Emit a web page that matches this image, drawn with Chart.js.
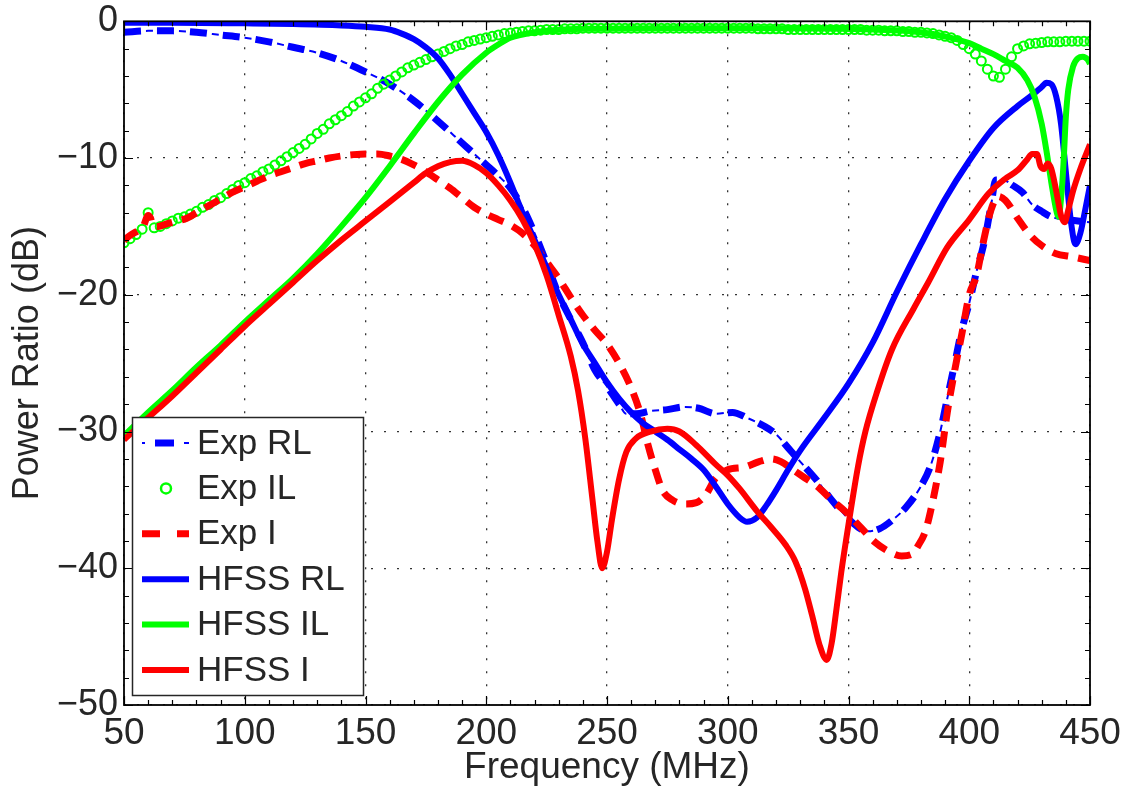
<!DOCTYPE html>
<html>
<head>
<meta charset="utf-8">
<title>Power Ratio vs Frequency</title>
<script src="https://cdn.jsdelivr.net/npm/chart.js@4.4.1/dist/chart.umd.min.js"></script>
<style>
    html, body { margin: 0; padding: 0; background: #fff; }
    canvas { display: block; }
</style>
</head>
<body>
<canvas id="grafico" width="1136" height="792"></canvas>
<script>
// Ejes
const xTicks = [50, 100, 150, 200, 250, 300, 350, 400, 450];
const yTicks = [-50, -40, -30, -20, -10, 0];

// Exp RL
const expRlFreq = [50, 60, 70, 80, 90, 100, 110, 120, 130, 140, 150, 160, 170, 180, 190, 200, 205, 210, 215, 220,
    225, 230, 235, 240, 245, 250, 255, 258, 262, 268, 275, 282, 288, 295, 302, 308, 315, 320, 325, 330,
    337, 343, 349, 354, 358, 363, 368, 374, 380, 384, 388, 391, 394, 397, 400, 403, 406, 409, 411, 414,
    418, 422, 426, 430, 434, 440, 445, 450];
const expRlDb = [-0.8, -0.7, -0.7, -0.8, -1.0, -1.2, -1.5, -1.9, -2.3, -2.9, -3.7, -4.6, -5.8, -7.3, -8.9, -10.5, -11.3, -12.2, -13.6, -15.5,
    -17.7, -20.0, -21.8, -23.5, -25.5, -26.7, -28.0, -28.7, -28.7, -28.5, -28.4, -28.2, -28.3, -28.7, -28.6, -29.0, -29.6, -30.2, -31.2, -32.2,
    -33.6, -35.0, -36.2, -37.0, -37.3, -37.1, -36.5, -35.5, -34.0, -32.5, -30.0, -27.5, -25.0, -22.5, -20.6, -18.3, -16.3, -13.5, -11.6, -11.6,
    -12.0, -12.5, -13.4, -13.9, -14.3, -14.5, -14.6, -14.7];

// Exp IL: barrido de 50 a 450 MHz cada 2.5 MHz
const expIlStart = 50;
const expIlStep = 2.5;
const expIlDb = [
    -16.2, -15.9, -15.6, -15.2, -14.0, -15.1, -15.0, -14.8, -14.6, -14.4,
    -14.3, -14.1, -13.9, -13.6, -13.4, -13.1, -12.9, -12.6, -12.3, -12.0,
    -11.8, -11.5, -11.3, -11.0, -10.8, -10.5, -10.2, -9.9, -9.6, -9.3,
    -9.0, -8.6, -8.2, -7.9, -7.5, -7.2, -6.9, -6.6, -6.2, -5.9,
    -5.6, -5.3, -4.9, -4.6, -4.3, -4.0, -3.7, -3.4, -3.2, -3.0,
    -2.8, -2.6, -2.4, -2.2, -2.0, -1.8, -1.7, -1.5, -1.4, -1.3,
    -1.2, -1.1, -1.0, -0.9, -0.85, -0.8, -0.75, -0.7, -0.7, -0.65,
    -0.6, -0.6, -0.6, -0.55, -0.55, -0.55, -0.5, -0.5, -0.5, -0.5,
    -0.5, -0.5, -0.5, -0.5, -0.5, -0.5, -0.5, -0.5, -0.5, -0.5,
    -0.5, -0.5, -0.5, -0.5, -0.5, -0.5, -0.5, -0.5, -0.5, -0.5,
    -0.5, -0.5, -0.5, -0.5, -0.5, -0.55, -0.55, -0.55, -0.55, -0.55,
    -0.6, -0.6, -0.6, -0.6, -0.6, -0.6, -0.6, -0.6, -0.6, -0.6,
    -0.6, -0.6, -0.6, -0.65, -0.65, -0.65, -0.7, -0.7, -0.7, -0.75,
    -0.75, -0.8, -0.8, -0.85, -0.9, -1.0, -1.1, -1.2, -1.4, -1.7,
    -2.0, -2.4, -2.9, -3.5, -4.0, -4.1, -3.5, -2.6, -2.0, -1.8,
    -1.65, -1.6, -1.55, -1.5, -1.5, -1.5, -1.45, -1.45, -1.45, -1.45,
    -1.45];

// Exp I
const expIFreq = [50, 53, 56, 58, 60, 61, 62, 64, 68, 72, 76, 80, 85, 90, 95, 100, 105, 110, 115, 120,
    125, 130, 135, 140, 145, 150, 155, 160, 165, 170, 175, 180, 185, 190, 195, 200, 205, 210, 215, 220,
    225, 230, 235, 240, 245, 250, 255, 260, 264, 267, 270, 273, 277, 282, 287, 291, 295, 300, 307, 313,
    318, 322, 327, 332, 337, 343, 349, 355, 361, 367, 372, 376, 379, 382, 385, 388, 391, 394, 397, 400,
    403, 406, 409, 412, 415, 420, 425, 430, 436, 442, 450];
const expIDb = [-16.0, -15.6, -15.3, -15.0, -14.2, -14.4, -15.0, -15.0, -14.8, -14.6, -14.4, -14.0, -13.5, -13.0, -12.5, -12.1, -11.7, -11.3, -11.0, -10.7,
    -10.4, -10.2, -10.0, -9.85, -9.75, -9.7, -9.7, -9.85, -10.1, -10.5, -11.0, -11.6, -12.2, -12.9, -13.6, -14.1, -14.5, -14.9, -15.5, -16.4,
    -17.6, -18.8, -20.2, -21.5, -22.6, -23.6, -25.0, -26.8, -28.8, -31.0, -32.8, -34.3, -35.0, -35.3, -35.2, -34.6, -33.4, -32.8, -32.6, -32.2,
    -32.0, -32.2, -32.8, -33.4, -34.0, -35.0, -35.9, -37.0, -38.1, -38.8, -39.1, -39.0, -38.3, -37.2, -35.0, -32.2, -28.5, -25.5, -22.8, -20.0,
    -18.6, -16.0, -13.8, -12.8, -13.1, -14.4, -15.6, -16.4, -17.0, -17.2, -17.5];

// HFSS RL
const hfssRlFreq = [50, 70, 100, 120, 140, 150, 160, 165, 170, 175, 180, 185, 190, 195, 200, 205, 210, 215, 220, 225,
    230, 235, 240, 245, 250, 255, 260, 265, 270, 275, 280, 285, 290, 295, 300, 305, 308, 312, 316, 320,
    325, 330, 340, 350, 360, 370, 380, 390, 400, 410, 420, 426, 430, 432, 434, 436, 438, 440, 442, 444,
    446, 448, 450];
const hfssRlDb = [-0.1, -0.1, -0.15, -0.2, -0.3, -0.4, -0.6, -0.9, -1.3, -1.9, -2.7, -3.9, -5.3, -6.7, -8.1, -9.8, -11.8, -14.0, -16.0, -18.0,
    -20.0, -21.8, -23.6, -25.0, -26.4, -27.6, -28.6, -29.4, -30.0, -30.6, -31.3, -32.0, -32.8, -34.0, -35.3, -36.3, -36.6, -36.3, -35.4, -34.3,
    -32.8, -31.4, -29.0, -26.5, -23.5, -19.8, -16.3, -13.0, -10.2, -7.8, -6.2, -5.4, -4.8, -4.5, -4.6, -5.5, -7.5, -11.0, -14.5, -16.3,
    -15.5, -13.8, -12.0];

// HFSS IL
const hfssIlFreq = [50, 60, 70, 80, 90, 100, 110, 120, 130, 140, 150, 160, 170, 180, 190, 200, 205, 210,
    220, 240, 280, 320, 360, 380, 390, 400, 405, 410, 415, 420, 424, 427, 430, 432, 434, 436, 437, 438,
    439, 440, 441, 443, 445, 447, 449, 450];
const hfssIlDb = [-30.3, -28.6, -27.0, -25.3, -23.7, -22.0, -20.4, -18.8, -17.0, -15.0, -12.9, -10.6, -8.2, -5.9, -3.9, -2.3, -1.7, -1.2,
    -0.8, -0.55, -0.5, -0.5, -0.6, -0.8, -1.1, -1.6, -2.0, -2.4, -2.9, -3.4, -4.3, -5.5, -7.5, -9.5, -11.8, -13.8, -14.3, -13.0,
    -10.5, -7.0, -5.0, -3.3, -2.7, -2.6, -2.8, -3.1];

// HFSS I
const hfssIFreq = [50, 60, 70, 80, 90, 100, 110, 120, 130, 140, 150, 160, 170, 175, 180, 185, 190, 195, 200, 205,
    210, 215, 220, 225, 230, 235, 238, 241, 244, 246, 248, 250, 252, 255, 258, 262, 268, 275, 280, 287,
    295, 300, 305, 312, 318, 324, 328, 332, 335, 338, 341, 343, 345, 347, 350, 354, 357, 362, 368, 377,
    383, 391, 400, 408, 415, 420, 424, 426, 428, 429.5, 431, 432.5, 434, 436, 438, 439.5, 441, 443, 446, 450];
const hfssIDb = [-30.6, -29.0, -27.4, -25.7, -24.0, -22.3, -20.7, -19.1, -17.5, -16.0, -14.6, -13.2, -11.8, -11.1, -10.6, -10.3, -10.2, -10.5, -11.1, -12.0,
    -13.1, -14.5, -16.3, -18.6, -21.5, -24.5, -27.0, -30.5, -35.0, -38.0, -40.0, -38.8, -36.5, -33.5, -31.5, -30.5, -30.0, -29.8, -30.0, -31.0,
    -32.4, -33.2, -34.2, -35.8, -37.0, -38.3, -39.5, -41.5, -43.5, -45.6, -46.7, -45.5, -43.0, -40.3, -36.8, -32.5, -30.0, -27.0, -24.0, -21.0,
    -19.1, -16.5, -14.5, -12.6, -11.5, -10.9, -10.1, -9.7, -9.7, -10.6, -10.8, -10.4, -10.8, -12.4, -14.2, -14.7, -13.8, -12.4, -10.8, -9.0];

const AZUL = "#0000ff";
const VERDE = "#00ff00";
const ROJO = "#ff0000";
const TEXTO = "#262626";

function puntos(freqs, valores) {
    return valores.map((v, i) => ({ x: freqs[i], y: v }));
}

const expIlFreq = expIlDb.map((_, i) => expIlStart + i * expIlStep);

function linea(label, freqs, valores, color, extra) {
    return Object.assign({
        label: label,
        data: puntos(freqs, valores),
        borderColor: color,
        backgroundColor: color,
        borderWidth: 6,
        pointRadius: 0,
        fill: false,
        clip: 0,
        cubicInterpolationMode: "monotone"
    }, extra || {});
}

const datasets = [
    linea("Exp RL", expRlFreq, expRlDb, AZUL, { borderWidth: 7, borderDash: [17, 16], order: 6, muestra: "rl" }),
    linea("Exp RL punto", expRlFreq, expRlDb, AZUL, { borderWidth: 2, borderDash: [7, 26], borderDashOffset: 11, order: 7, auxiliar: true }),
    {
        label: "Exp IL",
        data: puntos(expIlFreq, expIlDb),
        showLine: false,
        borderColor: VERDE,
        backgroundColor: "rgba(0,0,0,0)",
        pointStyle: "circle",
        pointRadius: 4.5,
        pointBorderWidth: 2,
        pointBorderColor: VERDE,
        pointBackgroundColor: "rgba(0,0,0,0)",
        clip: 0,
        order: 5,
        muestra: "circulo"
    },
    linea("Exp I", expIFreq, expIDb, ROJO, { borderWidth: 7, borderDash: [16, 10], order: 4, muestra: "guion" }),
    linea("HFSS RL", hfssRlFreq, hfssRlDb, AZUL, { order: 3 }),
    linea("HFSS IL", hfssIlFreq, hfssIlDb, VERDE, { order: 2 }),
    linea("HFSS I", hfssIFreq, hfssIDb, ROJO, { order: 1 })
];

// Marco, marcas interiores y leyenda al estilo MATLAB
const marcoPlugin = {
    id: "marco",
    afterDatasetsDraw(chart) {
        const ctx = chart.ctx;
        const a = chart.chartArea;
        const sx = chart.scales.x;
        const sy = chart.scales.y;
        ctx.save();
        ctx.strokeStyle = "#000";
        ctx.lineWidth = 1.2;
        ctx.beginPath();
        for (let f = xTicks[0]; f <= xTicks[xTicks.length - 1]; f += 10) {
            const px = Math.round(sx.getPixelForValue(f)) + 0.5;
            const len = (f % 50 === 0) ? 9 : 5;
            ctx.moveTo(px, a.bottom); ctx.lineTo(px, a.bottom - len);
            ctx.moveTo(px, a.top); ctx.lineTo(px, a.top + len);
        }
        for (let d = yTicks[0]; d <= yTicks[yTicks.length - 1]; d += 2) {
            const py = Math.round(sy.getPixelForValue(d)) + 0.5;
            const len = (d % 10 === 0) ? 9 : 5;
            ctx.moveTo(a.left, py); ctx.lineTo(a.left + len, py);
            ctx.moveTo(a.right, py); ctx.lineTo(a.right - len, py);
        }
        ctx.stroke();
        ctx.lineWidth = 1.8;
        ctx.strokeRect(a.left, a.top, a.right - a.left, a.bottom - a.top);
        ctx.restore();
    },
    afterDraw(chart) {
        const ctx = chart.ctx;
        const caja = { x: 132, y: 417, w: 231, h: 278 };
        ctx.save();
        ctx.fillStyle = "#fff";
        ctx.fillRect(caja.x, caja.y, caja.w, caja.h);
        ctx.strokeStyle = "#262626";
        ctx.lineWidth = 1.5;
        ctx.strokeRect(caja.x + 0.5, caja.y + 0.5, caja.w, caja.h);
        ctx.font = "35px 'Liberation Sans', Arial, sans-serif";
        ctx.textBaseline = "middle";
        ctx.fillStyle = TEXTO;
        const entradas = chart.data.datasets.filter(ds => !ds.auxiliar);
        entradas.forEach((ds, i) => {
            const yc = 443 + i * 45.4;
            const x0 = 142, x1 = 189;
            ctx.strokeStyle = ds.borderColor;
            ctx.lineCap = "butt";
            if (ds.muestra === "rl") {
                ctx.lineWidth = 2;
                ctx.beginPath();
                ctx.moveTo(x0, yc); ctx.lineTo(x0 + 3, yc);
                ctx.moveTo(x1 - 5, yc); ctx.lineTo(x1, yc);
                ctx.stroke();
                ctx.lineWidth = 7;
                ctx.beginPath();
                ctx.moveTo(155, yc); ctx.lineTo(174, yc);
                ctx.stroke();
            } else if (ds.muestra === "circulo") {
                ctx.lineWidth = 2.5;
                ctx.beginPath();
                ctx.arc(166, yc, 5, 0, Math.PI * 2);
                ctx.stroke();
            } else if (ds.muestra === "guion") {
                ctx.lineWidth = 7;
                ctx.beginPath();
                ctx.moveTo(x0, yc); ctx.lineTo(160, yc);
                ctx.moveTo(177, yc); ctx.lineTo(x1, yc);
                ctx.stroke();
            } else {
                ctx.lineWidth = 6;
                ctx.beginPath();
                ctx.moveTo(x0, yc); ctx.lineTo(x1, yc);
                ctx.stroke();
            }
            ctx.fillStyle = TEXTO;
            ctx.fillText(ds.label, 197, yc + 1);
        });
        ctx.restore();
    }
};

const fuenteEje = { family: "'Liberation Sans', Arial, sans-serif", size: 36 };

new Chart(document.getElementById("grafico").getContext("2d"), {
    type: "line",
    data: { datasets: datasets },
    options: {
        responsive: false,
        animation: false,
        devicePixelRatio: 1,
        layout: { padding: { top: 16, right: 46, left: 0, bottom: 0 } },
        plugins: {
            legend: { display: false },
            tooltip: { enabled: false }
        },
        scales: {
            x: {
                type: "linear",
                min: xTicks[0],
                max: xTicks[xTicks.length - 1],
                afterFit: s => { s.height = 87; },
                afterBuildTicks: s => { s.ticks = xTicks.map(v => ({ value: v })); },
                ticks: {
                    color: TEXTO,
                    font: { family: fuenteEje.family, size: 37, lineHeight: 1 },
                    padding: 10,
                    maxRotation: 0,
                    autoSkip: false
                },
                grid: { color: "#333", lineWidth: 1.3, drawTicks: false },
                border: { display: false, dash: [2, 11] },
                title: {
                    display: true,
                    text: "Frequency (MHz)",
                    color: TEXTO,
                    font: { family: fuenteEje.family, size: 37, lineHeight: 1.2 },
                    padding: { top: 0, bottom: 2 }
                }
            },
            y: {
                type: "linear",
                min: yTicks[0],
                max: yTicks[yTicks.length - 1],
                afterFit: s => { s.width = 124; },
                afterBuildTicks: s => { s.ticks = yTicks.map(v => ({ value: v })); },
                ticks: {
                    color: TEXTO,
                    font: { family: fuenteEje.family, size: 36, lineHeight: 0.85 },
                    padding: 6,
                    callback: v => String(v).replace("-", "\u2212")
                },
                grid: { color: "#333", lineWidth: 1.3, drawTicks: false },
                border: { display: false, dash: [2, 11] },
                title: {
                    display: true,
                    text: "Power Ratio (dB)",
                    color: TEXTO,
                    font: { family: fuenteEje.family, size: 36, lineHeight: 1.2 },
                    padding: { top: 6, bottom: 0 }
                }
            }
        }
    },
    plugins: [marcoPlugin]
});
</script>
</body>
</html>
